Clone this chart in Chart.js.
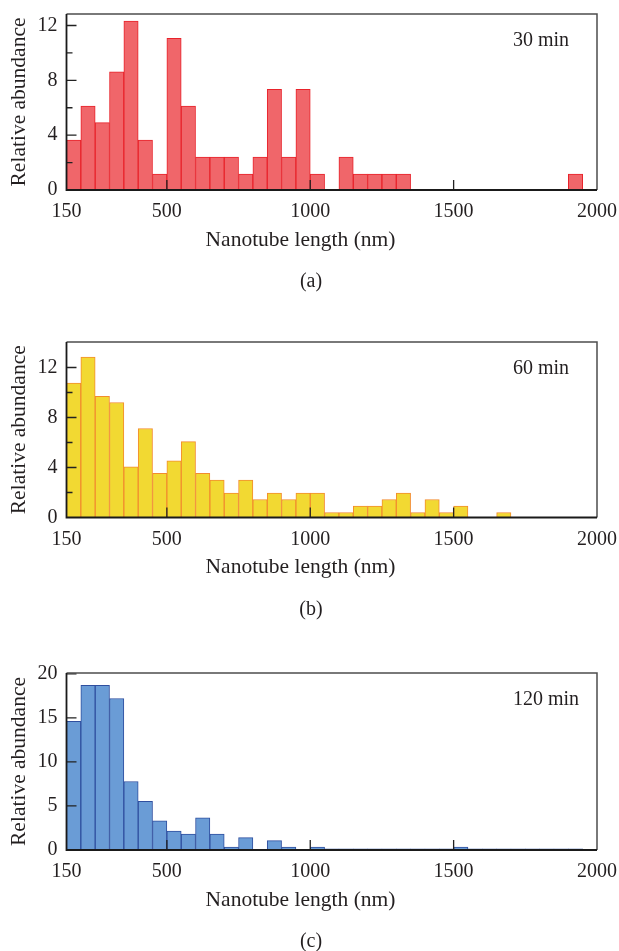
<!DOCTYPE html>
<html>
<head>
<meta charset="utf-8">
<script src="https://cdn.jsdelivr.net/npm/chart.js@4.4.1/dist/chart.umd.min.js"></script>
<style>
  html, body { margin: 0; padding: 0; background: #ffffff; width: 619px; height: 951px; overflow: hidden; }
  canvas { position: absolute; left: 0; }
</style>
</head>
<body>
<canvas id="chart30" width="619" height="291" style="top:4px"></canvas>
<canvas id="chart60" width="619" height="291" style="top:332px"></canvas>
<canvas id="chart120" width="619" height="291" style="top:663px"></canvas>
<script>
// Histogram bins: lower edge of each 50 nm bin
const binStart = [150, 200, 250, 300, 350, 400, 450, 500, 550, 600, 650, 700, 750, 800, 850, 900, 950,
                  1000, 1050, 1100, 1150, 1200, 1250, 1300, 1350, 1400, 1450, 1500, 1550, 1600, 1650,
                  1700, 1750, 1800, 1850, 1900, 1950];
const binWidth = 50;

// Relative abundance per bin
const abundance30 = [3.65, 6.13, 4.91, 8.63, 12.33, 3.65, 1.17, 11.06, 6.13, 2.41, 2.41, 2.41, 1.17, 2.41, 7.34, 2.41, 7.34,
                     1.17, 0, 2.41, 1.17, 1.17, 1.17, 1.17, 0, 0, 0, 0, 0, 0, 0,
                     0, 0, 0, 0, 1.17, 0];
const abundance60 = [10.76, 12.84, 9.70, 9.20, 4.06, 7.12, 3.53, 4.53, 6.07, 3.53, 2.99, 1.96, 2.99, 1.44, 1.96, 1.44, 1.96,
                     1.96, 0.40, 0.40, 0.92, 0.92, 1.44, 1.96, 0.40, 1.44, 0.40, 0.92, 0, 0, 0.40,
                     0, 0, 0, 0, 0, 0];
const abundance120 = [14.6, 18.7, 18.7, 17.2, 7.78, 5.54, 3.30, 2.16, 1.82, 3.64, 1.82, 0.34, 1.40, 0, 1.06, 0.34, 0,
                      0.34, 0.12, 0.12, 0.12, 0.12, 0.12, 0.12, 0.12, 0.12, 0.12, 0.34, 0.12, 0.12, 0.12,
                      0.12, 0.12, 0.12, 0.12, 0.12, 0];

// Axis ticks
const xTickValues = [150, 500, 1000, 1500, 2000];
const xInnerTicks = [500, 1000, 1500];
const yTicks30 = [0, 4, 8, 12];
const yMinor30 = [2, 6, 10];
const yTicks60 = [0, 4, 8, 12];
const yMinor60 = [2, 6, 10];
const yTicks120 = [0, 5, 10, 15, 20];
const yMinor120 = [];

// Text
const xTitle = 'Nanotube length (nm)';
const yTitle = 'Relative abundance';
const times = ['30 min', '60 min', '120 min'];
const letters = ['(a)', '(b)', '(c)'];

const FONT = '"Liberation Serif", "DejaVu Serif", serif';
const TEXT = '#231f20';

// Box frame, inward tick marks and panel captions
const panelDecor = {
  id: 'panelDecor',
  afterDatasetsDraw(chart, args, o) {
    const { ctx, chartArea: a, scales: { x, y } } = chart;
    ctx.save();
    ctx.strokeStyle = '#222';
    ctx.lineWidth = 1.3;
    ctx.beginPath();
    o.yMajor.forEach(v => {
      if (v <= 0 || v >= y.max) return;
      const py = y.getPixelForValue(v);
      ctx.moveTo(a.left, py); ctx.lineTo(a.left + 10, py);
    });
    o.yMinor.forEach(v => {
      const py = y.getPixelForValue(v);
      ctx.moveTo(a.left, py); ctx.lineTo(a.left + 6, py);
    });
    o.xInner.forEach(v => {
      const px = x.getPixelForValue(v);
      ctx.moveTo(px, a.bottom); ctx.lineTo(px, a.bottom - 10);
    });
    ctx.stroke();

    ctx.strokeStyle = '#4d4d4d';
    ctx.lineWidth = 1.5;
    ctx.beginPath();
    ctx.moveTo(a.left, a.top); ctx.lineTo(a.right, a.top); ctx.lineTo(a.right, a.bottom);
    ctx.stroke();
    ctx.strokeStyle = '#1a1a1a';
    ctx.lineWidth = 1.8;
    ctx.beginPath();
    ctx.moveTo(a.left, a.top); ctx.lineTo(a.left, a.bottom); ctx.lineTo(a.right, a.bottom);
    ctx.stroke();

    ctx.fillStyle = TEXT;
    ctx.textBaseline = 'middle';
    ctx.textAlign = 'left';
    ctx.font = '20px ' + FONT;
    ctx.fillText(o.time, 513, a.top + 27);
    ctx.textAlign = 'center';
    ctx.font = '21.5px ' + FONT;
    ctx.fillText(o.xTitle, 300.5, a.bottom + 50);
    ctx.font = '20px ' + FONT;
    ctx.fillText(o.letter, 311, a.bottom + 92);
    ctx.restore();
  }
};

function makePanel(id, values, fill, edge, yMax, yTicks, yMinor, plotH, idx) {
  const canvas = document.getElementById(id);
  const xAxisH = canvas.height - 10 - plotH;
  new Chart(canvas, {
    type: 'bar',
    data: {
      datasets: [{
        data: binStart.map((b, i) => ({ x: b + binWidth / 2, y: values[i] })),
        backgroundColor: fill,
        borderColor: edge,
        borderWidth: 1,
        barPercentage: 1,
        categoryPercentage: 1
      }]
    },
    options: {
      responsive: false,
      animation: false,
      layout: { padding: { left: 0, right: 22, top: 10, bottom: 0 } },
      plugins: {
        legend: { display: false },
        tooltip: { enabled: false },
        panelDecor: { yMajor: yTicks, yMinor: yMinor, xInner: xInnerTicks,
                      time: times[idx], letter: letters[idx], xTitle: xTitle }
      },
      scales: {
        x: {
          type: 'linear', min: 150, max: 2000, offset: false,
          afterBuildTicks: s => { s.ticks = xTickValues.map(v => ({ value: v })); },
          afterFit: s => { s.height = xAxisH; s.paddingLeft = 0; s.paddingRight = 0; },
          grid: { display: false, drawTicks: false },
          border: { display: false },
          ticks: { padding: 10, maxRotation: 0, autoSkip: false, color: TEXT,
                   callback: v => String(v),
                   font: { family: FONT, size: 20 } }
        },
        y: {
          type: 'linear', min: 0, max: yMax,
          afterBuildTicks: s => { s.ticks = yTicks.map(v => ({ value: v })); },
          afterFit: s => { s.width = 66.5; s.paddingTop = 0; s.paddingBottom = 0; },
          grid: { display: false, drawTicks: false },
          border: { display: false },
          ticks: { padding: 9, color: TEXT, callback: v => String(v),
                   font: { family: FONT, size: 20 } },
          title: { display: true, text: yTitle, color: TEXT, padding: { top: 6, bottom: 0 },
                   font: { family: FONT, size: 21.5 } }
        }
      }
    },
    plugins: [panelDecor]
  });
}

makePanel('chart30', abundance30, '#f0666a', '#e8232b', 12.84, yTicks30, yMinor30, 176, 0);
makePanel('chart60', abundance60, '#f2d932', '#f28c2e', 14.04, yTicks60, yMinor60, 175.5, 1);
makePanel('chart120', abundance120, '#6a9cd6', '#2f4f9f', 20.1, yTicks120, yMinor120, 177, 2);
</script>
</body>
</html>
